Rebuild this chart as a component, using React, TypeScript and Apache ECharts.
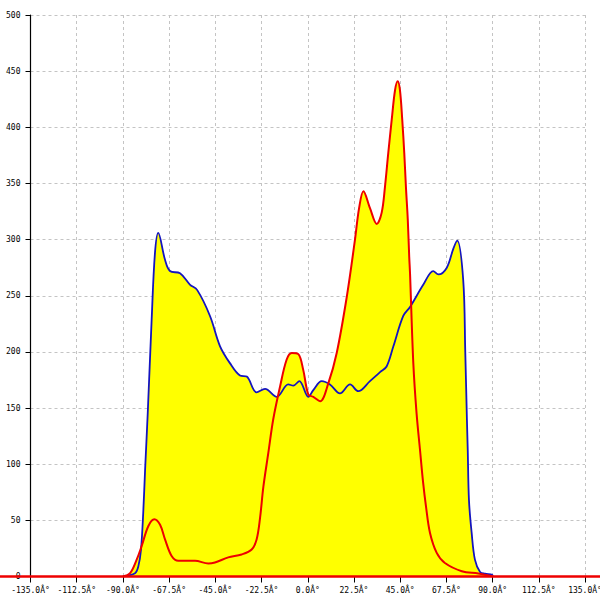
import React, { useEffect, useRef } from "react";
import * as echarts from "echarts";

const xTicks = { min: -135, max: 135, step: 22.5 };
const yTicks = { min: 0, max: 500, step: 50 };

// [angle in degrees, value]
const blueSeries: [number, number][] = [
  [-90, 0], [-84.1, 3], [-82.5, 9], [-81.2, 24], [-80.1, 57], [-79.2, 95],
  [-77.9, 146], [-76.0, 229], [-74.4, 288], [-72.8, 306], [-69.5, 282],
  [-67.1, 272], [-62.2, 270], [-57.4, 260], [-53.8, 255], [-47.6, 232],
  [-42.7, 205], [-37.9, 190], [-33.0, 179], [-29.7, 178], [-24.9, 164],
  [-20.8, 167], [-15.1, 160], [-9.5, 171], [-7.0, 170], [-4.1, 174],
  [0.3, 160], [2.7, 166], [6.8, 174], [10.8, 171], [15.7, 163], [20.6, 171],
  [24.6, 165], [30.3, 174], [35.2, 182], [38.4, 187], [41.7, 205],
  [46.5, 232], [49.8, 240], [56.3, 260], [61.1, 272], [63.6, 269],
  [67.7, 275], [70.9, 292], [72.8, 299], [75.7, 264], [76.7, 200],
  [77.5, 140], [77.9, 113], [78.5, 68], [79.8, 39], [81.4, 15], [83.9, 4],
  [86.3, 2.5], [89.8, 1.5], [90, 0],
];

const redSeries: [number, number][] = [
  [-90, 0], [-86.5, 3], [-83.3, 15], [-80.9, 27], [-77.6, 45], [-74.7, 51],
  [-71.9, 46], [-69.5, 33], [-66.2, 18], [-63.0, 14], [-54.9, 14],
  [-48.4, 11.6], [-45.2, 12.5], [-38.7, 17], [-32.2, 19.6], [-27.3, 24],
  [-24.9, 33], [-23.3, 51], [-21.6, 80], [-19.2, 110], [-16.8, 140],
  [-13.5, 169], [-10.3, 193], [-7.8, 199], [-4.6, 198], [-2.2, 184],
  [0.3, 162], [2.7, 160], [6.0, 156], [10.0, 172], [14.1, 199], [19.0, 249],
  [23.0, 300], [25.0, 328], [27.1, 343], [30.3, 328], [33.6, 314],
  [36.0, 324], [37.6, 347], [39.2, 377], [40.9, 407], [42.5, 433],
  [43.8, 441], [44.9, 433], [46.0, 407], [47.0, 377], [47.8, 347],
  [48.7, 318], [49.4, 285], [49.8, 270], [51.4, 190], [53.0, 145],
  [54.7, 112], [56.1, 85], [57.6, 62], [59.5, 39], [62.8, 21], [66.8, 12],
  [75.0, 4.7], [83.0, 2.6], [90.3, 0],
];

// red zero line that runs across the whole picture (drawn on a full-width grid)
const baselineRange = { min: -150, max: 150 };
const redBaseline: [number, number][] = [[-150, 0], [150, 0]];

const labelFont = { fontFamily: "DejaVu Sans Mono", fontSize: 8, color: "#000" };

export default function App() {
  const ref = useRef<HTMLDivElement>(null);
  useEffect(() => {
    if (!ref.current) return;
    const chart = echarts.init(ref.current, undefined, { renderer: "svg" });
    const smooth = 0.35;
    chart.setOption({
      animation: false,
      backgroundColor: "#fff",
      grid: [
        { left: 30.5, right: 15, top: 15, bottom: 23.5, outerBoundsMode: "none", containLabel: false },
        { left: 0, right: 0, top: 15, bottom: 23.5, outerBoundsMode: "none", containLabel: false },
      ],
      xAxis: [
        {
          type: "value",
          gridIndex: 0,
          min: xTicks.min,
          max: xTicks.max,
          interval: xTicks.step,
          axisLine: { onZero: false, lineStyle: { color: "#000", width: 1 } },
          axisTick: { length: 6, lineStyle: { color: "#000" } },
          axisLabel: {
            ...labelFont,
            margin: 10,
            showMinLabel: true,
            showMaxLabel: true,
            hideOverlap: false,
            formatter: (v: number) => v.toFixed(1) + "Â°",
          },
          splitLine: { show: true, lineStyle: { color: "#c4c4c4", type: [3, 3] } },
        },
        {
          type: "value",
          gridIndex: 1,
          min: baselineRange.min,
          max: baselineRange.max,
          show: false,
        },
      ],
      yAxis: [
        {
          type: "value",
          gridIndex: 0,
          min: yTicks.min,
          max: yTicks.max,
          interval: yTicks.step,
          axisLine: { show: true, onZero: false, lineStyle: { color: "#000", width: 1.2 } },
          axisTick: { show: true, length: 5, lineStyle: { color: "#000" } },
          axisLabel: { ...labelFont, margin: 10 },
          splitLine: { show: true, lineStyle: { color: "#c4c4c4", type: [3, 3] } },
        },
        {
          type: "value",
          gridIndex: 1,
          min: yTicks.min,
          max: yTicks.max,
          show: false,
        },
      ],
      series: [
        {
          type: "line", data: blueSeries, symbol: "none", smooth, z: 1,
          lineStyle: { width: 0, opacity: 0 },
          areaStyle: { color: "#ffff00", opacity: 1 },
        },
        {
          type: "line", data: redSeries, symbol: "none", smooth, z: 1,
          lineStyle: { width: 0, opacity: 0 },
          areaStyle: { color: "#ffff00", opacity: 1 },
        },
        {
          type: "line", data: blueSeries, symbol: "none", smooth, z: 3,
          lineStyle: { width: 1.8, color: "#1414c0" },
        },
        {
          type: "line", data: redSeries, symbol: "none", smooth, z: 4,
          lineStyle: { width: 2, color: "#ee0000" },
        },
        {
          type: "line", xAxisIndex: 1, yAxisIndex: 1, data: redBaseline,
          symbol: "none", z: 5, clip: false,
          lineStyle: { width: 2.5, color: "#ee0000" },
        },
      ],
    });
    return () => chart.dispose();
  }, []);
  return (
    <div
      ref={ref}
      style={{ position: "fixed", left: 0, top: 0, width: 600, height: 600 }}
    />
  );
}
